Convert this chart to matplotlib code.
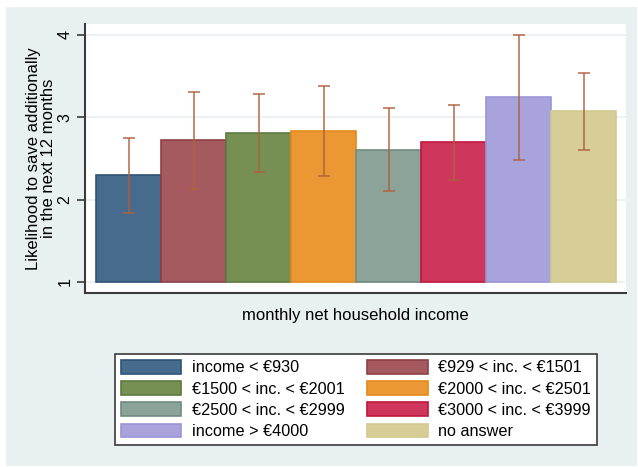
import numpy as np
import matplotlib.pyplot as plt
import matplotlib.patches as mpatches

plt.rcParams['font.family'] = ['Liberation Sans', 'DejaVu Sans']

labels = ['income < €930', '€929 < inc. < €1501', '€1500 < inc. < €2001',
          '€2000 < inc. < €2501', '€2500 < inc. < €2999', '€3000 < inc. < €3999',
          'income > €4000', 'no answer']
means = [2.30, 2.72, 2.81, 2.83, 2.60, 2.70, 3.24, 3.07]
ci_low = [1.84, 2.13, 2.34, 2.28, 2.10, 2.24, 2.48, 2.60]
ci_high = [2.75, 3.30, 3.28, 3.38, 3.11, 3.15, 4.00, 3.53]
yticks = [1, 2, 3, 4]

fills = ['#476b8c', '#a45a5f', '#769054', '#ea9734', '#8ba398', '#ce365b', '#a8a4db', '#d6ce96']
edges = ['#2e5478', '#8f3f48', '#5e7a3e', '#e58a1e', '#6f8c80', '#c0173f', '#9a96d8', '#d2ca8e']
bg = '#e8f0f2'

fig = plt.figure(figsize=(6.38, 4.67), dpi=100)
fig.patches.append(mpatches.Rectangle((6/638, 1 - 466/467), 631/638, 459/467,
                                      transform=fig.transFigure, facecolor=bg,
                                      edgecolor='none', zorder=-5))

ax = fig.add_axes([85/638, 1 - 293/467, 541/638, 269/467])
ax.set_facecolor('white')

x = np.arange(len(means))
base = 1.0
heights = [m - base for m in means]
ax.bar(x, heights, width=1.0, bottom=base, color=fills, edgecolor=edges,
       linewidth=1.2, zorder=2)
ax.errorbar(x, means, yerr=[np.array(means) - np.array(ci_low), np.array(ci_high) - np.array(means)],
            fmt='none', ecolor='#b0603e', elinewidth=1.3, capsize=4, capthick=1.3,
            alpha=0.8, zorder=3)

ax.set_xlim(-0.67, 7.65)
ax.set_ylim(0.866, 4.13)
ax.set_yticks(yticks)
ax.set_yticklabels([str(t) for t in yticks], rotation=90, va='center', fontsize=11.5)
ax.set_xticks([])
ax.yaxis.grid(True, color=bg, linewidth=1.2, zorder=0)
ax.set_axisbelow(True)
for s in ['top', 'right']:
    ax.spines[s].set_visible(False)
for s in ['left', 'bottom']:
    ax.spines[s].set_color('#3a3a3a')
    ax.spines[s].set_linewidth(1.5)
ax.tick_params(axis='y', length=6, width=1.2, color='#3a3a3a', pad=3)

ax.set_ylabel('Likelihood to save additionally\nin the next 12 months', fontsize=12,
              linespacing=1.05, labelpad=1)
ax.set_xlabel('monthly net household income', fontsize=12, labelpad=11)

# legend fills column-wise, so reorder to get row-wise reading order
order = [0, 2, 4, 6, 1, 3, 5, 7]
handles = [mpatches.Patch(facecolor=fills[i], edgecolor=edges[i], linewidth=1.2) for i in order]
leg = fig.legend(handles, [labels[i] for i in order], ncol=2, loc='center',
                 bbox_to_anchor=(356/638, 1 - 399.5/467),
                 fontsize=11.7, handlelength=3.7, handleheight=0.9,
                 handletextpad=0.65, labelspacing=0.36, borderpad=0.4,
                 columnspacing=1.4, borderaxespad=0,
                 fancybox=False, framealpha=1, edgecolor='#3a3a3a')
leg.get_frame().set_linewidth(1.2)

fig.savefig('out.png', dpi=100, facecolor='white')
